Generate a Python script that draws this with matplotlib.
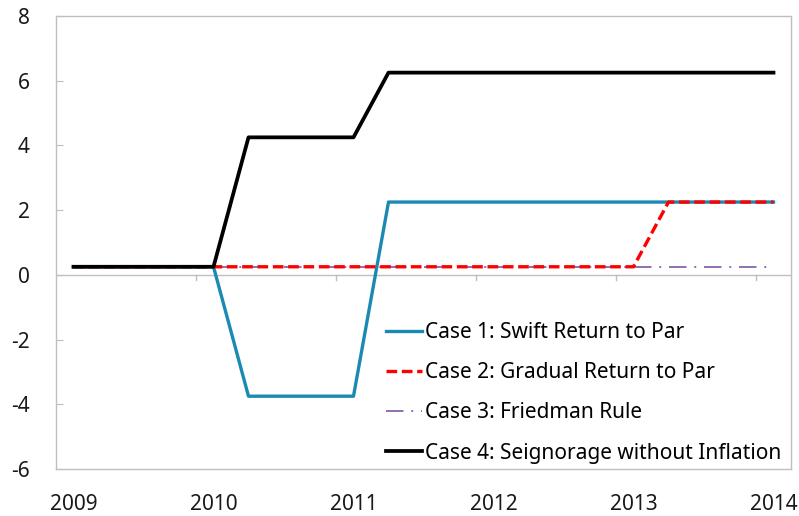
import matplotlib.pyplot as plt

plt.rcParams['font.family'] = ['Noto Sans', 'DejaVu Sans']
plt.rcParams['axes.unicode_minus'] = False

# quarterly points, 2009Q1 .. 2014Q1
quarters = [2009 + q / 4 for q in range(21)]
year_labels = ['2009', '2010', '2011', '2012', '2013', '2014']

case1 = [0.25] * 5 + [-3.75] * 4 + [2.25] * 12
case2 = [0.25] * 17 + [2.25] * 4
case3 = [0.25] * 21
case4 = [0.25] * 5 + [4.25] * 4 + [6.25] * 12

labels = ['Case 1: Swift Return to Par',
          'Case 2: Gradual Return to Par',
          'Case 3: Friedman Rule',
          'Case 4: Seignorage without Inflation']

fig = plt.figure(figsize=(7.99, 5.16), dpi=100)
ax = fig.add_axes([56 / 799, 1 - 469 / 516, (791 - 56) / 799, (469 - 16) / 516])

ax.plot(quarters, case1, color='#1B8AB3', lw=2.4, label=labels[0], zorder=3)
ax.plot(quarters, case2, color='#FF0000', lw=2.4, ls=(0, (3.2, 1.4)), label=labels[1], zorder=4)
ax.plot(quarters, case3, color='#8E6FB0', lw=1.4, ls=(0, (9, 4, 1, 4)), label=labels[2], zorder=3)
ax.plot(quarters, case4, color='black', lw=2.7, label=labels[3], zorder=5)

ax.set_xlim(2009 - 0.125, 2014 + 0.125)
ax.set_ylim(-6, 8)
ax.set_yticks(range(-6, 9, 2))
ax.set_xticks([2009 + i for i in range(6)])
ax.set_xticklabels(year_labels)
ax.tick_params(axis='x', length=0, pad=18, labelsize=15, colors='#1a1a1a')
ax.tick_params(axis='y', direction='in', length=5, color='#bfbfbf', pad=19,
               labelsize=15, labelcolor='#1a1a1a')

# zero line with small category ticks between the year blocks
ax.axhline(0, color='#bfbfbf', lw=1, zorder=1)
for yr in range(2009, 2014):
    ax.plot([yr + 0.875, yr + 0.875], [0, -0.15], color='#bfbfbf', lw=1, zorder=1)

for s in ax.spines.values():
    s.set_color('#bfbfbf')
    s.set_linewidth(1)

ax.legend(loc='upper left', bbox_to_anchor=(386 / 799, 1 - 322 / 516),
          bbox_transform=fig.transFigure, frameon=False, fontsize=15,
          handlelength=1.75, handletextpad=0.1, labelspacing=0.92,
          borderpad=0, borderaxespad=0)

fig.savefig('out.png', dpi=100)
